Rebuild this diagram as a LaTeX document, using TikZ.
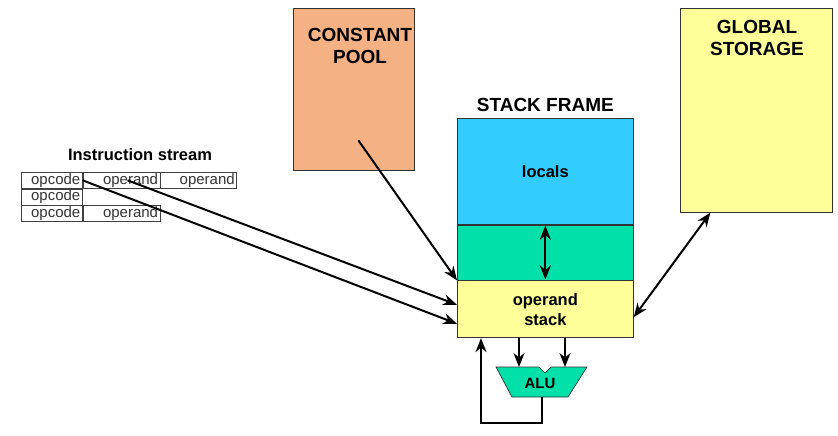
\documentclass[tikz,border=0pt]{standalone}
\usepackage{fontspec}
\setmainfont{Liberation Sans}
\usetikzlibrary{arrows.meta, positioning}

\definecolor{poolorange}{HTML}{F4B183}
\definecolor{storeyellow}{HTML}{FFFF99}
\definecolor{localblue}{HTML}{33CCFF}
\definecolor{midgreen}{HTML}{00E0A8}

\begin{document}
\begin{tikzpicture}[->,>={Stealth[length=14pt,width=11pt]}, x=1pt, y=-1pt, line width=2pt]
    \tikzstyle{box}=[rectangle, draw=black!80, line width=0.7pt, inner sep=0pt]
    \tikzstyle{cell}=[rectangle, draw=black!75, line width=0.7pt, minimum height=16pt,
                      inner xsep=2pt, inner ysep=0pt, align=right, text=black!80,
                      font=\fontsize{15}{15}\selectfont]
    \tikzstyle{title}=[font=\bfseries\fontsize{19}{22}\selectfont, align=center, inner sep=0pt]
    \tikzstyle{inbox}=[font=\bfseries\fontsize{16.5}{20}\selectfont, align=center]
    \useasboundingbox (0,0) rectangle (838,436);

    % memory areas
    \node[box, fill=poolorange, anchor=north west, minimum width=121pt, minimum height=162pt] (CP) at (293,8) {};
    \node[title] at (360,46) {CONSTANT\\POOL};
    \node[box, fill=storeyellow, anchor=north west, minimum width=152pt, minimum height=204pt] (GS) at (680,8) {};
    \node[title] at (757,38) {GLOBAL\\STORAGE};

    % stack frame
    \node[box, inbox, fill=localblue, anchor=north west, minimum width=176pt, minimum height=106pt] (LOC) at (457,118) {locals};
    \node[box, fill=midgreen, minimum width=176pt, minimum height=55pt, below=0pt of LOC] (MID) {};
    \node[box, inbox, fill=storeyellow, minimum width=176pt, minimum height=57pt, below=0pt of MID] (OPS) {operand\\stack};
    \node[title, above=5pt of LOC] {STACK FRAME};

    % instruction stream
    \node[title, font=\bfseries\fontsize{16.5}{20}\selectfont] at (140,155) {Instruction stream};
    \node[cell, anchor=north west, text width=57pt] (op1) at (21,172) {opcode};
    \node[cell, text width=73pt, right=0pt of op1] (a1) {operand};
    \node[cell, text width=72pt, right=0pt of a1] (b1) {operand};
    \node[cell, text width=57pt, below=0pt of op1] (op2) {opcode};
    \node[cell, text width=57pt, below=0pt of op2] (op3) {opcode};
    \node[cell, text width=73pt, right=0pt of op3] (a3) {operand};

    % ALU
    \coordinate (in1) at (519,367);
    \coordinate (in2) at (565,367);
    \coordinate (aluout) at (542,397);
    \coordinate (fb) at (481,423);
    \path[-, draw=black!80, line width=0.7pt, fill=midgreen]
        (496,367) -- (539,367) -- (545,373) -- (551,367) -- (587,367)
        -- (568,397) -- (512,397) -- cycle;
    \node[inbox, font=\bfseries\fontsize{15}{18}\selectfont] (ALU) at (540,383) {ALU};

    % data paths
    \draw (op1.east) -- ([yshift=-14.5pt]OPS.west);
    \draw ([xshift=6pt]a1.center) -- ([yshift=4.5pt]OPS.west);
    \draw ([shift={(4.5,51)}]CP.center) -- (OPS.north west);
    \draw[<->] ([yshift=-1pt]MID.north) -- ([yshift=1pt]MID.south);
    \draw[<->] ([yshift=-8pt]OPS.east) -- ([xshift=-46pt]GS.south);
    \draw (OPS.south -| in1) -- (in1);
    \draw (OPS.south -| in2) -- (in2);
    \draw (aluout) |- (fb) -- (fb |- OPS.south);
\end{tikzpicture}
\end{document}
